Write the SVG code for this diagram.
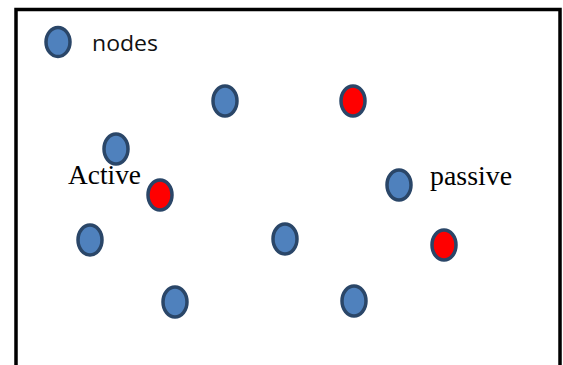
<svg xmlns="http://www.w3.org/2000/svg" width="563" height="365" viewBox="0 0 563 365">
<style>
.node ellipse{stroke:#2a4668;stroke-width:3.5}
.blue ellipse{fill:#4f81bd}
.red ellipse{fill:#ff0000}
.serif{font-family:"Liberation Serif","Times New Roman",serif;font-size:27px;fill:#000}
.sans{font-family:"Open Sans","Liberation Sans",Arial,sans-serif;font-size:22px;fill:#111}
</style>
<rect x="0" y="0" width="563" height="365" fill="#fff"/>
<rect id="frame" x="16" y="9.5" width="544" height="400" fill="none" stroke="#000" stroke-width="3.5"/>
<g id="connectors"/>
<g id="legend" class="node blue"><ellipse cx="58" cy="42" rx="12" ry="14.5"/></g>
<text id="label-nodes" class="sans" x="92" y="51" textLength="66" lengthAdjust="spacingAndGlyphs">nodes</text>
<g id="n1" class="node blue"><ellipse cx="225" cy="101" rx="12" ry="15"/></g>
<g id="n2" class="node red"><ellipse cx="353" cy="101" rx="12" ry="15"/></g>
<g id="n3" class="node blue"><ellipse cx="116" cy="149" rx="12" ry="15"/></g>
<g id="n4" class="node red"><ellipse cx="160" cy="195" rx="12" ry="15"/></g>
<g id="n5" class="node blue"><ellipse cx="399" cy="185" rx="12" ry="15"/></g>
<g id="n6" class="node blue"><ellipse cx="90" cy="240" rx="12" ry="15"/></g>
<g id="n7" class="node blue"><ellipse cx="285" cy="239" rx="12" ry="15"/></g>
<g id="n8" class="node red"><ellipse cx="444" cy="245" rx="12" ry="15"/></g>
<g id="n9" class="node blue"><ellipse cx="175" cy="302" rx="12" ry="15"/></g>
<g id="n10" class="node blue"><ellipse cx="354" cy="301" rx="12" ry="15"/></g>
<text id="label-active" class="serif" x="68" y="184" textLength="73" lengthAdjust="spacingAndGlyphs">Active</text>
<text id="label-passive" class="serif" x="430" y="185" textLength="82" lengthAdjust="spacingAndGlyphs">passive</text>
</svg>
